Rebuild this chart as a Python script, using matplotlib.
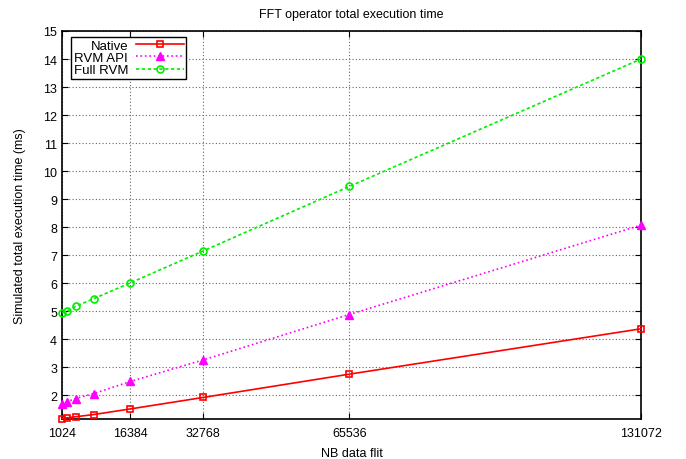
import matplotlib
matplotlib.use('Agg')
import matplotlib.pyplot as plt

plt.rcParams['font.family'] = ['Liberation Sans', 'DejaVu Sans']

# data
nb_flit = [1024, 2048, 4096, 8192, 16384, 32768, 65536, 131072]
native = [1.16, 1.19, 1.23, 1.31, 1.51, 1.92, 2.75, 4.37]
rvm_api = [1.70, 1.76, 1.88, 2.06, 2.49, 3.26, 4.88, 8.07]
full_rvm = [4.95, 4.99, 5.17, 5.45, 6.01, 7.15, 9.45, 14.0]
x_ticks = [1024, 16384, 32768, 65536, 131072]
y_ticks = list(range(2, 16))

fig = plt.figure(figsize=(6.86, 4.60), dpi=100)
ax = fig.add_axes([62 / 686, 1 - 420 / 460, (641 - 62) / 686, (420 - 32) / 460])

ax.plot(nb_flit, native, color='#ff0000', linestyle='-', linewidth=1.2,
        marker='s', markersize=4.5, markerfacecolor='none', markeredgewidth=1.2,
        label='Native', clip_on=False, zorder=3)
ax.plot(nb_flit, rvm_api, color='#ff00ff', linestyle=':', linewidth=1.2,
        marker='^', markersize=6, label='RVM API', clip_on=False, zorder=3)
ax.plot(nb_flit, full_rvm, color='#00ee00', linestyle=(0, (2, 1.5)), linewidth=1.2,
        marker='o', markersize=5, markerfacecolor='none', markeredgewidth=1.2,
        label='Full RVM', clip_on=False, zorder=3)

ax.set_xlim(1024, 131072)
ax.set_ylim(1.15, 15)
ax.set_xticks(x_ticks)
ax.set_xticklabels([str(v) for v in x_ticks])
ax.set_yticks(y_ticks)

ax.grid(True, color='#666666', linestyle=(0, (1, 2)), linewidth=0.8)
ax.tick_params(direction='in', top=True, right=True, length=4, labelsize=9, width=0.8)
ax.tick_params(axis='x', pad=5.5)
for s in ax.spines.values():
    s.set_linewidth(1.2)

ax.set_title('FFT operator total execution time', fontsize=9, pad=10)
ax.set_xlabel('NB data flit', fontsize=9, labelpad=6)
ax.set_ylabel('Simulated total execution time (ms)', fontsize=9, labelpad=12)

leg = ax.legend(loc='upper left', bbox_to_anchor=(9 / 579, 1 - 6 / 388),
                markerfirst=False, fancybox=False, framealpha=1,
                edgecolor='black', fontsize=9.5, borderpad=0.2,
                labelspacing=0.0, handlelength=3.6, handletextpad=0.6,
                borderaxespad=0)
leg.get_frame().set_linewidth(1.0)

fig.savefig('out.png', dpi=100)
